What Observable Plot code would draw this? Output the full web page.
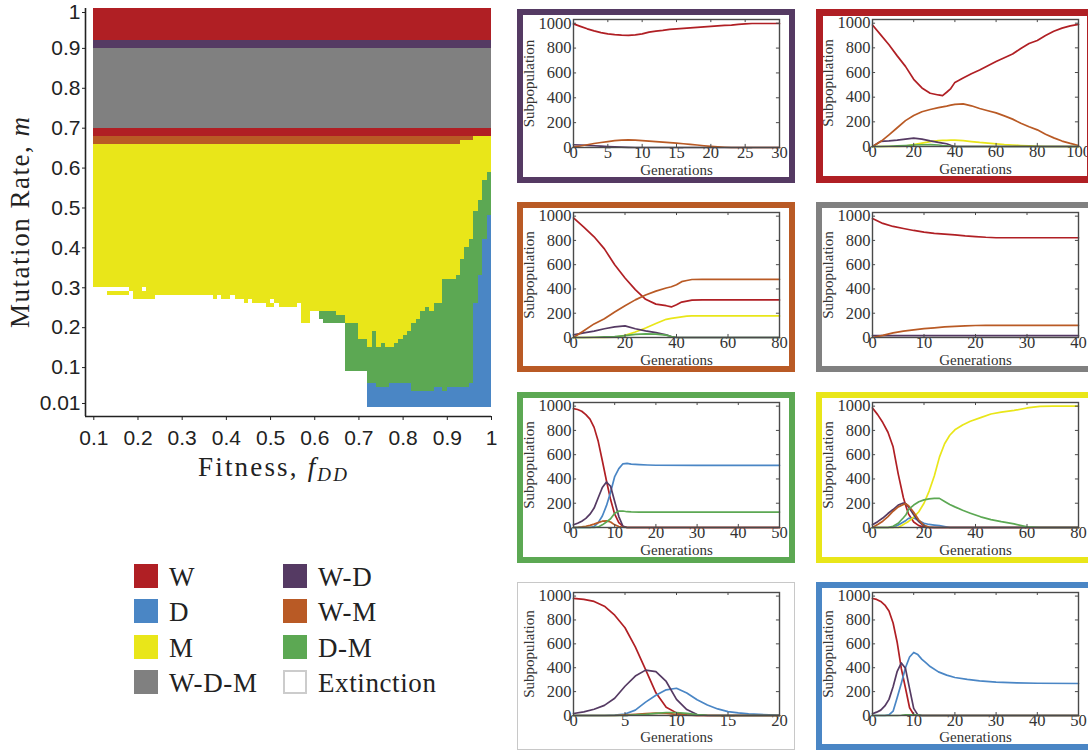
<!DOCTYPE html>
<html>
<head>
<meta charset="utf-8">
<script src="https://cdn.jsdelivr.net/npm/d3@7"></script>
<script src="https://cdn.jsdelivr.net/npm/@observablehq/plot@0.6"></script>
<style>
  html, body { margin: 0; padding: 0; background: #fff; }
  body { width: 1088px; height: 750px; overflow: hidden; position: relative; font-family: "Liberation Serif", serif; }
  .abs { position: absolute; }
  .panel { position: absolute; box-sizing: border-box; overflow: visible; }
  .panel svg { position: absolute; left: 0; top: 0; }
  .pborder { position: absolute; left: 0; top: 0; right: 0; bottom: 0; box-sizing: border-box; pointer-events: none; }
  .lg-sw { position: absolute; width: 24px; height: 24px; box-sizing: border-box; }
  .lg-tx { position: absolute; font-family: "Liberation Serif", serif; font-size: 27px; letter-spacing: 0.6px; color: #222; line-height: 24px; white-space: nowrap; }
</style>
</head>
<body>
<div id="heat" class="abs" style="left:0;top:0;width:500px;height:490px"></div>
<div id="legend"></div>
<div id="panels"></div>
<script>
// ---------- Phase diagram (left) ----------
const heatClasses = ["W", "D", "M", "W-D-M", "W-D", "W-M", "D-M", "Extinction"];
const heatColors  = ["#b01f24", "#4a86c5", "#e9e619", "#808080", "#553a63", "#b95a25", "#5ca853", "#ffffff"];

const fitnessCols = [
  0.10,0.11,0.12,0.13,0.14,0.15,0.16,0.17,0.18,0.19,
  0.20,0.21,0.22,0.23,0.24,0.25,0.26,0.27,0.28,0.29,
  0.30,0.31,0.32,0.33,0.34,0.35,0.36,0.37,0.38,0.39,
  0.40,0.41,0.42,0.43,0.44,0.45,0.46,0.47,0.48,0.49,
  0.50,0.51,0.52,0.53,0.54,0.55,0.56,0.57,0.58,0.59,
  0.60,0.61,0.62,0.63,0.64,0.65,0.66,0.67,0.68,0.69,
  0.70,0.71,0.72,0.73,0.74,0.75,0.76,0.77,0.78,0.79,
  0.80,0.81,0.82,0.83,0.84,0.85,0.86,0.87,0.88,0.89,
  0.90,0.91,0.92,0.93,0.94,0.95,0.96,0.97,0.98,0.99];
const cellWidth = 0.01;

// top of the extinction (white) region in each fitness column
const extinctionTop = [
  0.30,0.30,0.30,0.28,0.28,0.28,0.28,0.28,0.29,0.27,
  0.27,0.27,0.27,0.27,0.28,0.28,0.28,0.28,0.28,0.28,
  0.28,0.28,0.28,0.28,0.28,0.28,0.28,0.27,0.28,0.27,
  0.27,0.28,0.27,0.27,0.26,0.27,0.26,0.26,0.26,0.25,
  0.25,0.26,0.25,0.25,0.25,0.25,0.26,0.21,0.21,0.24,
  0.24,0.22,0.21,0.21,0.21,0.21,0.21,0.09,0.09,0.09,
  0.09,0.09,0,0,0,0,0,0,0,0,
  0,0,0,0,0,0,0,0,0,0,
  0,0,0,0,0,0,0,0,0,0];
// top of the D region
const dTop = [
  0,0,0,0,0,0,0,0,0,0,
  0,0,0,0,0,0,0,0,0,0,
  0,0,0,0,0,0,0,0,0,0,
  0,0,0,0,0,0,0,0,0,0,
  0,0,0,0,0,0,0,0,0,0,
  0,0,0,0,0,0,0,0,0,0,
  0,0,0.06,0.06,0.05,0.05,0.05,0.06,0.06,0.06,
  0.06,0.06,0.04,0.04,0.04,0.04,0.04,0.05,0.05,0.04,
  0.05,0.05,0.05,0.05,0.05,0.06,0.26,0.33,0.42,0.48];
// top of the D-M region (equal to the region below where there is no D-M)
const dmTop = [
  0.30,0.30,0.30,0.28,0.28,0.28,0.28,0.28,0.29,0.27,
  0.27,0.27,0.27,0.27,0.28,0.28,0.28,0.28,0.28,0.28,
  0.28,0.28,0.28,0.28,0.28,0.28,0.28,0.27,0.28,0.27,
  0.27,0.28,0.27,0.27,0.26,0.27,0.26,0.26,0.26,0.25,
  0.25,0.26,0.25,0.25,0.25,0.25,0.26,0.21,0.21,0.24,
  0.24,0.24,0.24,0.24,0.24,0.23,0.23,0.21,0.21,0.21,
  0.17,0.17,0.15,0.19,0.15,0.16,0.15,0.15,0.16,0.17,
  0.18,0.19,0.21,0.22,0.24,0.25,0.24,0.26,0.26,0.32,
  0.32,0.32,0.33,0.37,0.40,0.42,0.49,0.52,0.57,0.59];
// top of the M region
const mTop = [
  0.66,0.66,0.66,0.66,0.66,0.66,0.66,0.66,0.66,0.66,
  0.66,0.66,0.66,0.66,0.66,0.66,0.66,0.66,0.66,0.66,
  0.66,0.66,0.66,0.66,0.66,0.66,0.66,0.66,0.66,0.66,
  0.66,0.66,0.66,0.66,0.66,0.66,0.66,0.66,0.66,0.66,
  0.66,0.66,0.66,0.66,0.66,0.66,0.66,0.66,0.66,0.66,
  0.66,0.66,0.66,0.66,0.66,0.66,0.66,0.66,0.66,0.66,
  0.66,0.66,0.66,0.66,0.66,0.66,0.66,0.66,0.66,0.66,
  0.66,0.66,0.66,0.66,0.66,0.66,0.66,0.66,0.66,0.66,
  0.66,0.66,0.66,0.67,0.67,0.67,0.68,0.68,0.68,0.68];
const wmBandTop = 0.68;
// horizontal bands above
const bandClass = ["W", "W-D-M", "W-D", "W"];
const bandLow   = [0.68, 0.70, 0.90, 0.92];
const bandHigh  = [0.70, 0.90, 0.92, 1.00];
// isolated extinction cells inside M
const holeFitness = [0.13, 0.14, 0.15, 0.16, 0.17, 0.21, 0.50];
const holeMutation = [0.29, 0.29, 0.29, 0.29, 0.29, 0.29, 0.26];

const heatXTicks = [0.1, 0.2, 0.3, 0.4, 0.5, 0.6, 0.7, 0.8, 0.9, 1];
const heatYTicks = [0.01, 0.1, 0.2, 0.3, 0.4, 0.5, 0.6, 0.7, 0.8, 0.9];
const heatYTopTick = [1];
const xAxisMin = 0.0812;
const yAxisMin = -0.0226;

// ---------- Time series (right) ----------
const seriesKeys   = ["W", "D", "M", "W-D", "W-M", "D-M"];
const seriesColors = ["#b01f24", "#4a86c5", "#e9e619", "#553a63", "#b95a25", "#5ca853"];
const popTicks = [0, 200, 400, 600, 800, 1000];

// panel 1 (W-D)
const p1t  = [0,1,2,3,4,5,6,7,8,9,10,11,12,13,14,15,16,17,18,19,20,21,22,23,24,25,26,27,28,29,30];
const p1W  = [995,975,955,938,925,915,909,905,903,907,914,928,936,942,950,954,958,962,966,970,974,978,982,985,990,995,998,998,998,998,998];
const p1WM = [5,12,22,32,40,48,55,60,62,60,56,52,48,44,39,35,30,25,20,14,9,5,2,0,0,0,0,0,0,0,0];
const p1WD = [22,20,17,14,11,8,6,3,1,0,0,0,0,0,0,0,0,0,0,0,0,0,0,0,0,0,0,0,0,0,0];
// panel 2 (W)
const p2t  = [0,4,8,12,16,20,24,28,32,34,36,38,40,44,48,52,56,60,64,68,72,76,80,84,88,92,96,100];
const p2W  = [985,905,825,735,650,545,475,432,418,412,440,470,520,555,590,620,655,690,720,750,795,835,860,900,935,960,978,990];
const p2WM = [0,40,95,152,210,252,282,300,315,322,328,335,342,346,330,308,290,273,248,222,188,160,135,100,70,44,25,8];
const p2WD = [0,42,46,52,60,68,60,45,33,28,22,10,0,0,0,0,0,0,0,0,0,0,0,0,0,0,0,0];
const p2M  = [0,0,0,0,3,15,28,40,47,49,50,51,52,48,40,33,28,22,16,12,8,5,2,0,0,0,0,0];
const p2DM = [0,0,2,5,8,12,14,15,12,8,5,2,0,0,0,0,0,0,0,0,0,0,0,0,0,0,0,0];
// panel 3 (W-M)
const p3t  = [0,4,8,12,16,20,24,28,32,36,38,40,42,44,46,50,60,70,80];
const p3W  = [985,910,830,730,600,490,395,315,275,262,252,270,292,300,308,310,310,310,310];
const p3WM = [0,55,112,155,210,262,310,350,382,408,418,435,460,470,478,479,479,479,479];
const p3WD = [22,38,52,72,88,96,72,55,40,22,8,0,0,0,0,0,0,0,0];
const p3M  = [0,0,0,0,2,18,45,78,115,150,158,164,170,176,178,178,178,178,178];
const p3DM = [0,0,2,5,8,15,25,30,28,20,8,0,0,0,0,0,0,0,0];
// panel 4 (W-D-M)
const p4t  = [0,2,4,6,8,10,12,14,16,18,20,22,24,30,40];
const p4W  = [980,940,915,898,882,868,858,852,846,838,832,826,822,822,822];
const p4WM = [0,18,38,52,63,73,80,87,92,96,99,100,100,100,100];
const p4WD = [15,15,15,15,15,15,15,15,15,15,15,15,15,15,15];
// panel 5 (D-M)
const p5t  = [0,1,2,3,4,5,6,7,8,9,10,11,12,13,14,16,18,20,30,40,50];
const p5W  = [980,972,958,930,893,825,710,550,385,230,110,40,10,0,0,0,0,0,0,0,0];
const p5WD = [22,35,52,75,110,160,245,330,375,340,215,90,10,0,0,0,0,0,0,0,0];
const p5D  = [0,0,0,0,0,8,40,95,180,290,420,485,525,528,522,518,515,513,512,512,512];
const p5DM = [0,0,0,0,0,0,5,22,45,72,118,135,136,130,128,127,127,127,127,127,127];
const p5WM = [0,2,5,10,18,28,40,52,55,45,22,8,2,0,0,0,0,0,0,0,0];
// panel 6 (M)
const p6t  = [0,2,4,6,8,10,12,13,14,16,18,20,22,24,26,28,30,32,35,38,42,46,50,55,60,65,70,80];
const p6W  = [985,930,865,785,665,440,245,175,110,45,15,3,0,0,0,0,0,0,0,0,0,0,0,0,0,0,0,0];
const p6WD = [22,48,78,115,148,185,202,195,170,105,48,12,0,0,0,0,0,0,0,0,0,0,0,0,0,0,0,0];
const p6WM = [0,25,52,90,134,170,190,194,180,125,62,18,3,0,0,0,0,0,0,0,0,0,0,0,0,0,0,0];
const p6D  = [0,0,0,0,0,20,45,58,75,80,55,35,25,20,15,8,0,0,0,0,0,0,0,0,0,0,0,0];
const p6DM = [0,0,0,0,10,35,80,105,150,185,212,228,236,240,240,215,190,170,142,118,88,65,48,30,5,0,0,0];
const p6M  = [0,0,0,0,0,0,25,38,50,85,130,200,300,425,580,690,760,805,845,875,905,935,950,965,985,998,1000,1000];
// panel 7 (extinction)
const p7t  = [0,1,2,3,4,5,6,7,8,9,10,11,12,13,14,15,16,17,18,19,20];
const p7W  = [980,972,955,915,840,735,575,385,190,70,22,5,0,0,0,0,0,0,0,0,0];
const p7WD = [17,30,52,85,145,245,330,380,368,285,135,50,8,0,0,0,0,0,0,0,0];
const p7D  = [0,0,0,0,3,12,45,112,170,215,228,188,132,88,55,33,22,14,9,5,2];
const p7WM = [0,0,0,0,0,5,10,15,20,18,10,3,0,0,0,0,0,0,0,0,0];
const p7DM = [0,0,0,0,0,0,5,10,18,25,25,18,8,2,0,0,0,0,0,0,0];
// panel 8 (D)
const p8t  = [0,1,2,3,4,5,6,7,8,9,10,11,12,13,14,16,18,20,23,26,30,35,40,50];
const p8W  = [980,972,955,925,875,775,611,392,230,65,8,0,0,0,0,0,0,0,0,0,0,0,0,0];
const p8WD = [14,28,45,80,135,240,370,440,395,225,60,5,0,0,0,0,0,0,0,0,0,0,0,0];
const p8D  = [0,0,0,0,5,36,150,270,400,490,528,510,470,440,410,365,338,318,302,290,280,274,270,268];
const p8DM = [0,0,0,0,0,0,0,2,5,6,5,3,0,0,0,0,0,0,0,0,0,0,0,0];

// ================= build phase diagram =================
const cells = [];
fitnessCols.forEach((f, i) => {
  const x1 = f, x2 = f + cellWidth;
  const d = dTop[i], e = extinctionTop[i], g = dmTop[i], m = mTop[i];
  if (d > 0) cells.push({x1, x2, y1: 0, y2: d, cls: "D"});
  const gb = Math.max(d, e);
  if (g > gb) cells.push({x1, x2, y1: gb, y2: g, cls: "D-M"});
  const yb = Math.max(g, gb);
  cells.push({x1, x2, y1: yb, y2: m, cls: "M"});
  if (m < wmBandTop) cells.push({x1, x2, y1: m, y2: wmBandTop, cls: "W-M"});
});
bandClass.forEach((c, i) => {
  cells.push({x1: fitnessCols[0], x2: fitnessCols[fitnessCols.length - 1] + cellWidth, y1: bandLow[i], y2: bandHigh[i], cls: c});
});
holeFitness.forEach((f, i) => {
  cells.push({x1: f, x2: f + cellWidth, y1: holeMutation[i], y2: holeMutation[i] + 0.01, cls: "Extinction"});
});

const heat = Plot.plot({
  width: 500, height: 490,
  marginLeft: 85, marginRight: 9, marginTop: 8, marginBottom: 74,
  x: {domain: [xAxisMin, 1], label: null},
  y: {domain: [yAxisMin, 1], label: null},
  color: {domain: heatClasses, range: heatColors},
  style: {fontFamily: "'Liberation Sans', Arial, sans-serif", fontSize: "21px", color: "#222", background: "transparent", overflow: "visible"},
  marks: [
    Plot.rect(cells, {x1: "x1", x2: "x2", y1: "y1", y2: "y2", fill: "cls", shapeRendering: "crispEdges"}),
    Plot.axisX(heatXTicks, {tickSize: 4, tickPadding: 10, tickFormat: d => String(d), label: null}),
    Plot.axisY(heatYTicks, {tickSize: 3, tickPadding: 2, tickFormat: d => String(d), label: null}),
    Plot.axisY(heatYTopTick, {tickSize: 3, tickPadding: 2, tickFormat: d => String(d), label: null, dy: 4}),
    Plot.ruleX([xAxisMin], {y1: yAxisMin, y2: 1, stroke: "#222", strokeWidth: 1.6}),
    Plot.ruleY([yAxisMin], {x1: xAxisMin, x2: 1, stroke: "#222", strokeWidth: 1.6})
  ]
});
document.getElementById("heat").appendChild(heat);

// axis titles (serif, with italic math symbols)
const hs = d3.select(heat);
const xt = hs.append("text")
  .attr("x", 198).attr("y", 476)
  .attr("text-anchor", "start")
  .attr("font-family", "'Liberation Serif', serif").attr("font-size", 27).attr("fill", "#222")
  .attr("textLength", 149).attr("lengthAdjust", "spacing");
xt.append("tspan").text("Fitness, ");
xt.append("tspan").attr("font-style", "italic").text("f");
xt.append("tspan").attr("font-style", "italic").attr("font-size", 19).attr("dy", 5).text("DD");

const yt = hs.append("text")
  .attr("transform", "translate(29,222.5) rotate(-90)")
  .attr("text-anchor", "middle")
  .attr("font-family", "'Liberation Serif', serif").attr("font-size", 27).attr("fill", "#222")
  .attr("textLength", 211).attr("lengthAdjust", "spacing");
yt.append("tspan").text("Mutation Rate, ");
yt.append("tspan").attr("font-style", "italic").text("m");

// ================= legend =================
const legend = document.getElementById("legend");
heatClasses.forEach((c, i) => {
  const col = i < 4 ? 0 : 1, row = i % 4;
  const left = col === 0 ? 134 : 283;
  const top = 564 + row * 35.3;
  const sw = document.createElement("div");
  sw.className = "lg-sw";
  sw.style.left = left + "px"; sw.style.top = top + "px";
  sw.style.background = heatColors[i];
  if (c === "Extinction") sw.style.border = "2px solid #cccccc";
  legend.appendChild(sw);
  const tx = document.createElement("div");
  tx.className = "lg-tx";
  tx.style.left = (left + 35) + "px"; tx.style.top = (top + 1) + "px";
  tx.textContent = c;
  legend.appendChild(tx);
});

// ================= panels =================
const panels = [
  {left: 517, top: 9,   h: 174, frameH: 128, labelDy: 27, border: "#553a63", bw: 6,   xmax: 30,  xticks: [0,5,10,15,20,25,30],  t: p1t, series: {"W": p1W, "W-D": p1WD, "W-M": p1WM}},
  {left: 816, top: 9,   h: 174, frameH: 127, labelDy: 27, border: "#b01f24", bw: 7,   xmax: 100, xticks: [0,20,40,60,80,100],   t: p2t, series: {"W": p2W, "M": p2M, "W-D": p2WD, "W-M": p2WM, "D-M": p2DM}},
  {left: 517, top: 202, h: 170, frameH: 125, labelDy: 27, border: "#b95a25", bw: 6,   xmax: 80,  xticks: [0,20,40,60,80],       t: p3t, series: {"W": p3W, "M": p3M, "W-D": p3WD, "W-M": p3WM, "D-M": p3DM}},
  {left: 816, top: 202, h: 170, frameH: 125, labelDy: 27, border: "#808080", bw: 6,   xmax: 40,  xticks: [0,10,20,30,40],       t: p4t, series: {"W": p4W, "W-D": p4WD, "W-M": p4WM}},
  {left: 517, top: 392, h: 171, frameH: 125, labelDy: 27, border: "#5ca853", bw: 6,   xmax: 50,  xticks: [0,10,20,30,40,50],    t: p5t, series: {"W": p5W, "D": p5D, "W-D": p5WD, "W-M": p5WM, "D-M": p5DM}},
  {left: 816, top: 392, h: 171, frameH: 125, labelDy: 27, border: "#e9e619", bw: 6,   xmax: 80,  xticks: [0,20,40,60,80],       t: p6t, series: {"W": p6W, "D": p6D, "M": p6M, "W-D": p6WD, "W-M": p6WM, "D-M": p6DM}},
  {left: 517, top: 582, h: 168, frameH: 123, labelDy: 26, border: "#c8c8c8", bw: 1.5, xmax: 20,  xticks: [0,5,10,15,20],        t: p7t, series: {"W": p7W, "D": p7D, "W-D": p7WD, "W-M": p7WM, "D-M": p7DM}},
  {left: 816, top: 582, h: 168, frameH: 123, labelDy: 26, border: "#4a86c5", bw: 6,   xmax: 50,  xticks: [0,10,20,30,40,50],    t: p8t, series: {"W": p8W, "D": p8D, "W-D": p8WD, "D-M": p8DM}}
];

const popMax = 1030;
const frameColor = "#4a4a4a";
const panelsEl = document.getElementById("panels");
panels.forEach(cfg => {
  const data = [];
  seriesKeys.forEach(k => {
    const vals = cfg.series[k];
    if (!vals) return;
    vals.forEach((v, j) => data.push({t: cfg.t[j], v, s: k}));
  });
  const plot = Plot.plot({
    width: 278, height: cfg.h,
    marginLeft: 56, marginRight: 16, marginTop: 10, marginBottom: cfg.h - 10 - cfg.frameH,
    x: {domain: [0, cfg.xmax], ticks: cfg.xticks, tickSize: 0, tickPadding: -1, tickFormat: d => String(d), label: null},
    y: {domain: [0, popMax], ticks: popTicks, tickSize: 0, tickPadding: 2, tickFormat: d => String(d), label: null},
    color: {domain: seriesKeys, range: seriesColors},
    style: {fontFamily: "'Liberation Serif', serif", fontSize: "16.5px", color: "#333", background: "transparent"},
    marks: [
      Plot.line(data, {x: "t", y: "v", z: "s", stroke: "s", strokeWidth: 1.7}),
      Plot.frame({stroke: frameColor, strokeWidth: 1.4}),
      Plot.ruleX(cfg.xticks, {x: d => d, y1: 0, y2: 25, stroke: frameColor}),
      Plot.ruleX(cfg.xticks, {x: d => d, y1: popMax, y2: popMax - 25, stroke: frameColor}),
      Plot.ruleY(popTicks, {y: d => d, x1: 0, x2: cfg.xmax * 0.015, stroke: frameColor}),
      Plot.ruleY(popTicks, {y: d => d, x1: cfg.xmax, x2: cfg.xmax * 0.985, stroke: frameColor}),
      Plot.text(["Generations"], {text: d => d, frameAnchor: "bottom", dy: cfg.labelDy, fontSize: 15, fill: "#333"}),
      Plot.text(["Subpopulation"], {text: d => d, frameAnchor: "left", textAnchor: "middle", dx: -44, rotate: -90, fontSize: 15, fill: "#333"})
    ]
  });
  const div = document.createElement("div");
  div.className = "panel";
  div.style.left = cfg.left + "px"; div.style.top = cfg.top + "px";
  div.style.width = "278px"; div.style.height = cfg.h + "px";
  div.appendChild(plot);
  const b = document.createElement("div");
  b.className = "pborder";
  b.style.border = cfg.bw + "px solid " + cfg.border;
  div.appendChild(b);
  panelsEl.appendChild(div);
});
</script>
</body>
</html>
